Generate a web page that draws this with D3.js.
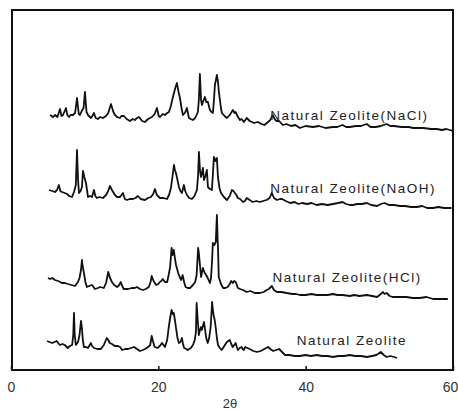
<!DOCTYPE html>
<html>
<head>
<meta charset="utf-8">
<script src="https://cdn.jsdelivr.net/npm/d3@7"></script>
<style>
  html, body { margin: 0; padding: 0; background: #fff; }
  svg { display: block; }
</style>
</head>
<body>
<svg id="chart" width="458" height="411"></svg>
<script>
// ---- Data: [2θ (deg), relative intensity] per sample ----
const seriesNames = ["Natural Zeolite(NaCl)", "Natural Zeolite(NaOH)", "Natural Zeolite(HCl)", "Natural Zeolite"];
const seriesOffsets = [240, 160, 70, 10];

const naclPattern = [[5.3,15],[5.7,13],[6.0,15],[6.3,13],[6.65,21],[6.85,14],[7.06,15],[7.46,22],[7.65,15],[7.87,13],[8.1,15],[8.41,15],[8.7,17],[8.96,32],[9.2,16],[9.36,15],[9.6,19],[9.85,22],[10.04,38],[10.25,18],[10.45,15],[10.85,12],[11.05,14],[11.26,17],[11.5,12],[11.8,11],[12.1,13],[12.48,12],[12.9,14],[13.2,17],[13.57,26],[13.9,18],[14.11,15],[14.4,13],[14.79,12],[15.0,14],[15.33,14],[15.7,11],[16.15,9],[16.5,11],[16.82,10],[17.1,12],[17.37,13],[17.8,9],[18.18,8],[18.6,11],[19.13,13],[19.5,16],[19.81,22],[20.05,14],[20.22,13],[20.6,16],[20.9,15],[21.2,17],[21.44,18],[21.7,24],[21.98,33],[22.3,42],[22.52,47],[22.75,38],[22.93,32],[23.15,22],[23.34,15],[23.6,17],[23.88,22],[24.15,12],[24.4,11],[24.69,10],[25.0,12],[25.37,18],[25.5,30],[25.64,56],[25.8,30],[25.92,25],[26.1,29],[26.32,33],[26.5,28],[26.73,28],[27.0,20],[27.2,18],[27.41,17],[27.55,30],[27.68,45],[27.95,55],[28.1,48],[28.22,38],[28.5,22],[28.63,17],[29.0,14],[29.31,12],[29.7,15],[30.12,20],[30.35,17],[30.5,18],[30.66,15],[31.07,10],[31.3,11],[31.61,8],[32.0,12],[32.4,9],[33.0,7],[33.5,8],[34.0,6],[34.4,5],[34.9,8],[35.2,10],[35.5,15],[35.8,11],[36.0,9],[36.4,9],[36.9,5],[37.4,6],[38.0,4],[38.6,5],[39.2,2],[40.0,4],[41.0,3],[41.8,4],[42.7,2],[43.7,3],[44.3,3],[45.0,5],[45.5,3],[46.0,3],[46.8,4],[47.5,4],[48.3,6],[48.8,3],[49.5,3],[50.2,4],[51.0,6],[51.5,4],[52.0,4],[53.0,3],[54.0,3],[54.6,2],[55.1,2],[56.0,2],[57.0,1],[57.8,1],[58.5,0],[59.1,1],[60.0,-1]];

const naohPattern = [[5.16,20],[5.6,19],[5.97,18],[6.25,20],[6.5,25],[6.7,19],[6.92,18],[7.3,17],[7.6,16],[7.9,14],[8.28,13],[8.55,18],[8.8,25],[8.96,60],[9.1,30],[9.23,17],[9.45,19],[9.63,23],[9.77,39],[9.95,33],[10.18,27],[10.45,13],[10.7,14],[10.99,13],[11.26,20],[11.45,14],[11.67,12],[12.0,13],[12.48,12],[12.9,15],[13.2,19],[13.43,24],[13.7,20],[14.11,15],[14.4,13],[14.79,13],[15.0,15],[15.2,17],[15.45,11],[15.74,10],[16.1,11],[16.55,11],[16.9,12],[17.23,14],[17.6,11],[18.18,10],[18.6,12],[19.0,13],[19.3,16],[19.54,21],[19.8,15],[20.22,12],[20.7,12],[21.17,11],[21.45,15],[21.71,22],[21.95,35],[22.12,45],[22.25,40],[22.39,37],[22.6,30],[22.8,23],[23.0,19],[23.2,17],[23.47,25],[23.65,19],[23.88,15],[24.2,12],[24.56,11],[24.9,14],[25.24,20],[25.4,35],[25.51,58],[25.65,40],[25.78,33],[25.92,37],[26.05,42],[26.19,30],[26.4,34],[26.59,40],[26.73,23],[27.0,21],[27.27,20],[27.4,35],[27.54,53],[27.75,49],[27.95,52],[28.09,33],[28.3,22],[28.5,17],[28.9,13],[29.31,10],[29.7,14],[29.99,20],[30.2,19],[30.39,17],[30.6,15],[30.8,12],[31.1,11],[31.48,8],[31.75,9],[32.0,12],[32.4,10],[32.8,8],[33.3,9],[33.8,8],[34.2,9],[34.7,10],[35.1,12],[35.4,17],[35.7,12],[36.1,10],[36.5,11],[36.8,11],[37.3,9],[37.9,7],[38.5,8],[39.0,6],[39.5,7],[40.2,6],[40.8,7],[41.5,5],[42.2,6],[43.0,5],[43.7,6],[44.4,7],[45.0,8],[45.5,6],[46.0,5],[46.4,5],[47.0,6],[47.6,6],[48.3,7],[48.9,5],[49.7,4],[50.2,6],[50.7,7],[51.3,5],[52.0,5],[52.8,4],[53.5,4],[54.3,3],[55.1,3],[55.8,4],[56.5,2],[57.3,2],[58.0,3],[58.8,2],[59.8,2]];

const hclPattern = [[5.02,22],[5.3,21],[5.6,22],[5.97,20],[6.4,19],[6.92,17],[7.3,17],[7.73,16],[8.2,15],[8.68,14],[9.09,18],[9.3,22],[9.5,30],[9.63,40],[9.75,33],[9.9,27],[10.1,18],[10.3,13],[10.6,14],[11.0,15],[11.4,11],[11.8,12],[12.1,13],[12.6,12],[12.9,17],[13.2,28],[13.45,22],[13.7,18],[14.0,15],[14.4,13],[14.7,15],[14.9,18],[15.1,14],[15.3,11],[15.9,11],[16.4,12],[16.8,12],[17.1,13],[17.5,11],[17.9,10],[18.3,11],[18.7,13],[18.95,18],[19.1,24],[19.35,19],[19.7,15],[20.0,16],[20.2,18],[20.4,19],[20.6,21],[20.9,18],[21.2,18],[21.4,25],[21.6,33],[21.8,52],[21.95,45],[22.1,50],[22.25,42],[22.4,35],[22.7,27],[22.9,23],[23.1,20],[23.3,25],[23.5,18],[23.7,13],[24.0,12],[24.3,12],[24.7,15],[25.0,18],[25.2,25],[25.4,52],[25.5,47],[25.65,35],[25.8,23],[26.05,32],[26.2,29],[26.3,27],[26.5,25],[26.7,22],[27.0,17],[27.15,22],[27.3,40],[27.4,57],[27.6,55],[27.8,58],[27.95,85],[28.05,60],[28.1,53],[28.2,23],[28.5,16],[28.8,12],[29.1,12],[29.4,13],[29.7,16],[29.9,19],[30.1,17],[30.3,19],[30.5,18],[30.8,12],[31.1,11],[31.5,10],[32.0,8],[32.5,9],[33.1,7],[33.8,7],[34.3,8],[34.7,10],[35.0,11],[35.4,14],[35.7,10],[36.1,8],[36.7,8],[37.4,7],[38.2,6],[38.7,6],[39.2,5],[40.0,5],[40.8,6],[41.5,5],[42.3,5],[43.0,5],[43.7,6],[44.3,5],[45.0,5],[46.0,4],[46.6,5],[47.3,4],[48.3,5],[49.0,4],[49.7,3],[50.2,6],[50.5,8],[50.7,6],[51.0,7],[51.4,4],[51.8,3],[52.5,3],[53.2,3],[53.7,3],[54.5,2],[55.5,2],[56.4,3],[57.3,1],[58.2,1],[59.3,1]];

const naturalPattern = [[4.9,19],[5.2,18],[5.6,17],[5.9,18],[6.2,19],[6.4,17],[6.65,15],[7.0,16],[7.3,15],[7.7,12],[8.0,14],[8.3,15],[8.45,25],[8.55,47],[8.65,25],[8.8,15],[9.1,18],[9.3,25],[9.5,39],[9.63,32],[9.75,20],[9.9,13],[10.2,13],[10.45,12],[10.85,17],[11.0,14],[11.26,12],[11.7,11],[12.2,11],[12.6,15],[13.0,22],[13.2,20],[13.4,17],[13.7,16],[14.1,14],[14.5,14],[14.8,13],[15.1,10],[15.5,11],[15.9,11],[16.3,12],[16.7,13],[17.1,11],[17.5,9],[17.9,10],[18.2,11],[18.6,13],[18.9,15],[19.1,24],[19.3,18],[19.5,13],[19.9,12],[20.2,14],[20.5,17],[20.7,15],[20.9,13],[21.2,20],[21.4,32],[21.6,42],[21.8,50],[21.95,46],[22.1,47],[22.25,40],[22.4,32],[22.6,22],[22.8,17],[23.0,18],[23.2,22],[23.35,16],[23.5,12],[23.8,11],[24.0,10],[24.4,12],[24.7,15],[24.95,20],[25.1,28],[25.2,57],[25.3,45],[25.5,25],[25.65,30],[25.8,33],[25.9,30],[26.05,34],[26.2,38],[26.35,30],[26.5,22],[26.7,17],[26.9,22],[27.1,33],[27.2,45],[27.3,58],[27.4,50],[27.5,45],[27.65,40],[27.8,32],[27.95,22],[28.1,15],[28.35,12],[28.6,10],[28.95,14],[29.3,18],[29.5,19],[29.7,20],[29.9,16],[30.1,13],[30.3,15],[30.5,17],[30.65,13],[30.8,10],[31.05,12],[31.3,13],[31.45,11],[31.6,10],[31.8,13],[32.1,12],[32.4,11],[32.9,9],[33.4,8],[33.9,9],[34.4,11],[34.9,13],[35.2,11],[35.6,9],[36.0,10],[36.4,11],[36.8,8],[37.2,5],[37.8,5],[38.5,4],[39.2,4],[40.0,5],[40.7,4],[41.5,5],[42.2,4],[43.0,4],[43.7,3],[44.4,4],[45.2,4],[46.0,5],[46.7,4],[47.5,4],[48.3,3],[49.0,4],[49.6,5],[50.2,8],[50.6,5],[51.0,3],[51.5,4],[52.0,3],[52.4,2]];

const patterns = [naclPattern, naohPattern, hclPattern, naturalPattern];
// label anchor positions in data units: [2θ, intensity above offset]
const labelTheta = [35.2, 35.2, 35.5, 38.8];
const labelLevel = [10, 17, 18, 15];

const xTicks = [0, 20, 40, 60];
const xTitle = "2θ";

// ---- Drawing ----
const svg = d3.select("#chart");
const x = d3.scaleLinear().domain([0, 60]).range([11, 453]);
const y = d3.scaleLinear().domain([0, 360]).range([370, 10]);

// frame
svg.append("rect")
  .attr("x", 12).attr("y", 10)
  .attr("width", 441).attr("height", 360)
  .attr("fill", "none").attr("stroke", "#111").attr("stroke-width", 2);

const line = d3.line()
  .x(d => x(d[0]))
  .y(d => y(d[1]));

patterns.forEach((p, i) => {
  const off = seriesOffsets[i];
  svg.append("path")
    .datum(p.map(d => [d[0], d[1] + off]))
    .attr("d", line)
    .attr("fill", "none")
    .attr("stroke", "#111")
    .attr("stroke-width", 1.8)
    .attr("stroke-linejoin", "round");

  svg.append("text")
    .attr("x", x(labelTheta[i]))
    .attr("y", y(labelLevel[i] + off))
    .attr("font-family", "'Liberation Sans', Arial, sans-serif")
    .attr("font-size", 13.5)
    .attr("letter-spacing", 1.5)
    .attr("fill", "#222")
    .text(seriesNames[i]);
});

// x axis
const axis = d3.axisBottom(x)
  .tickValues(xTicks)
  .tickSizeInner(-4)
  .tickSizeOuter(0)
  .tickPadding(12)
  .tickFormat(d3.format("d"));

const gAxis = svg.append("g")
  .attr("transform", "translate(0,370)")
  .call(axis);
gAxis.select(".domain").remove();
gAxis.selectAll(".tick line").attr("stroke", "#111").attr("stroke-width", 1.5);
gAxis.selectAll(".tick text")
  .attr("font-family", "'Liberation Sans', Arial, sans-serif")
  .attr("font-size", 14)
  .attr("fill", "#333")
  .attr("dx", d => d === 60 ? -3 : 0);

svg.append("text")
  .attr("x", 230)
  .attr("y", 408)
  .attr("text-anchor", "middle")
  .attr("font-family", "'Liberation Sans', Arial, sans-serif")
  .attr("font-size", 13)
  .attr("fill", "#333")
  .text(xTitle);
</script>
</body>
</html>
